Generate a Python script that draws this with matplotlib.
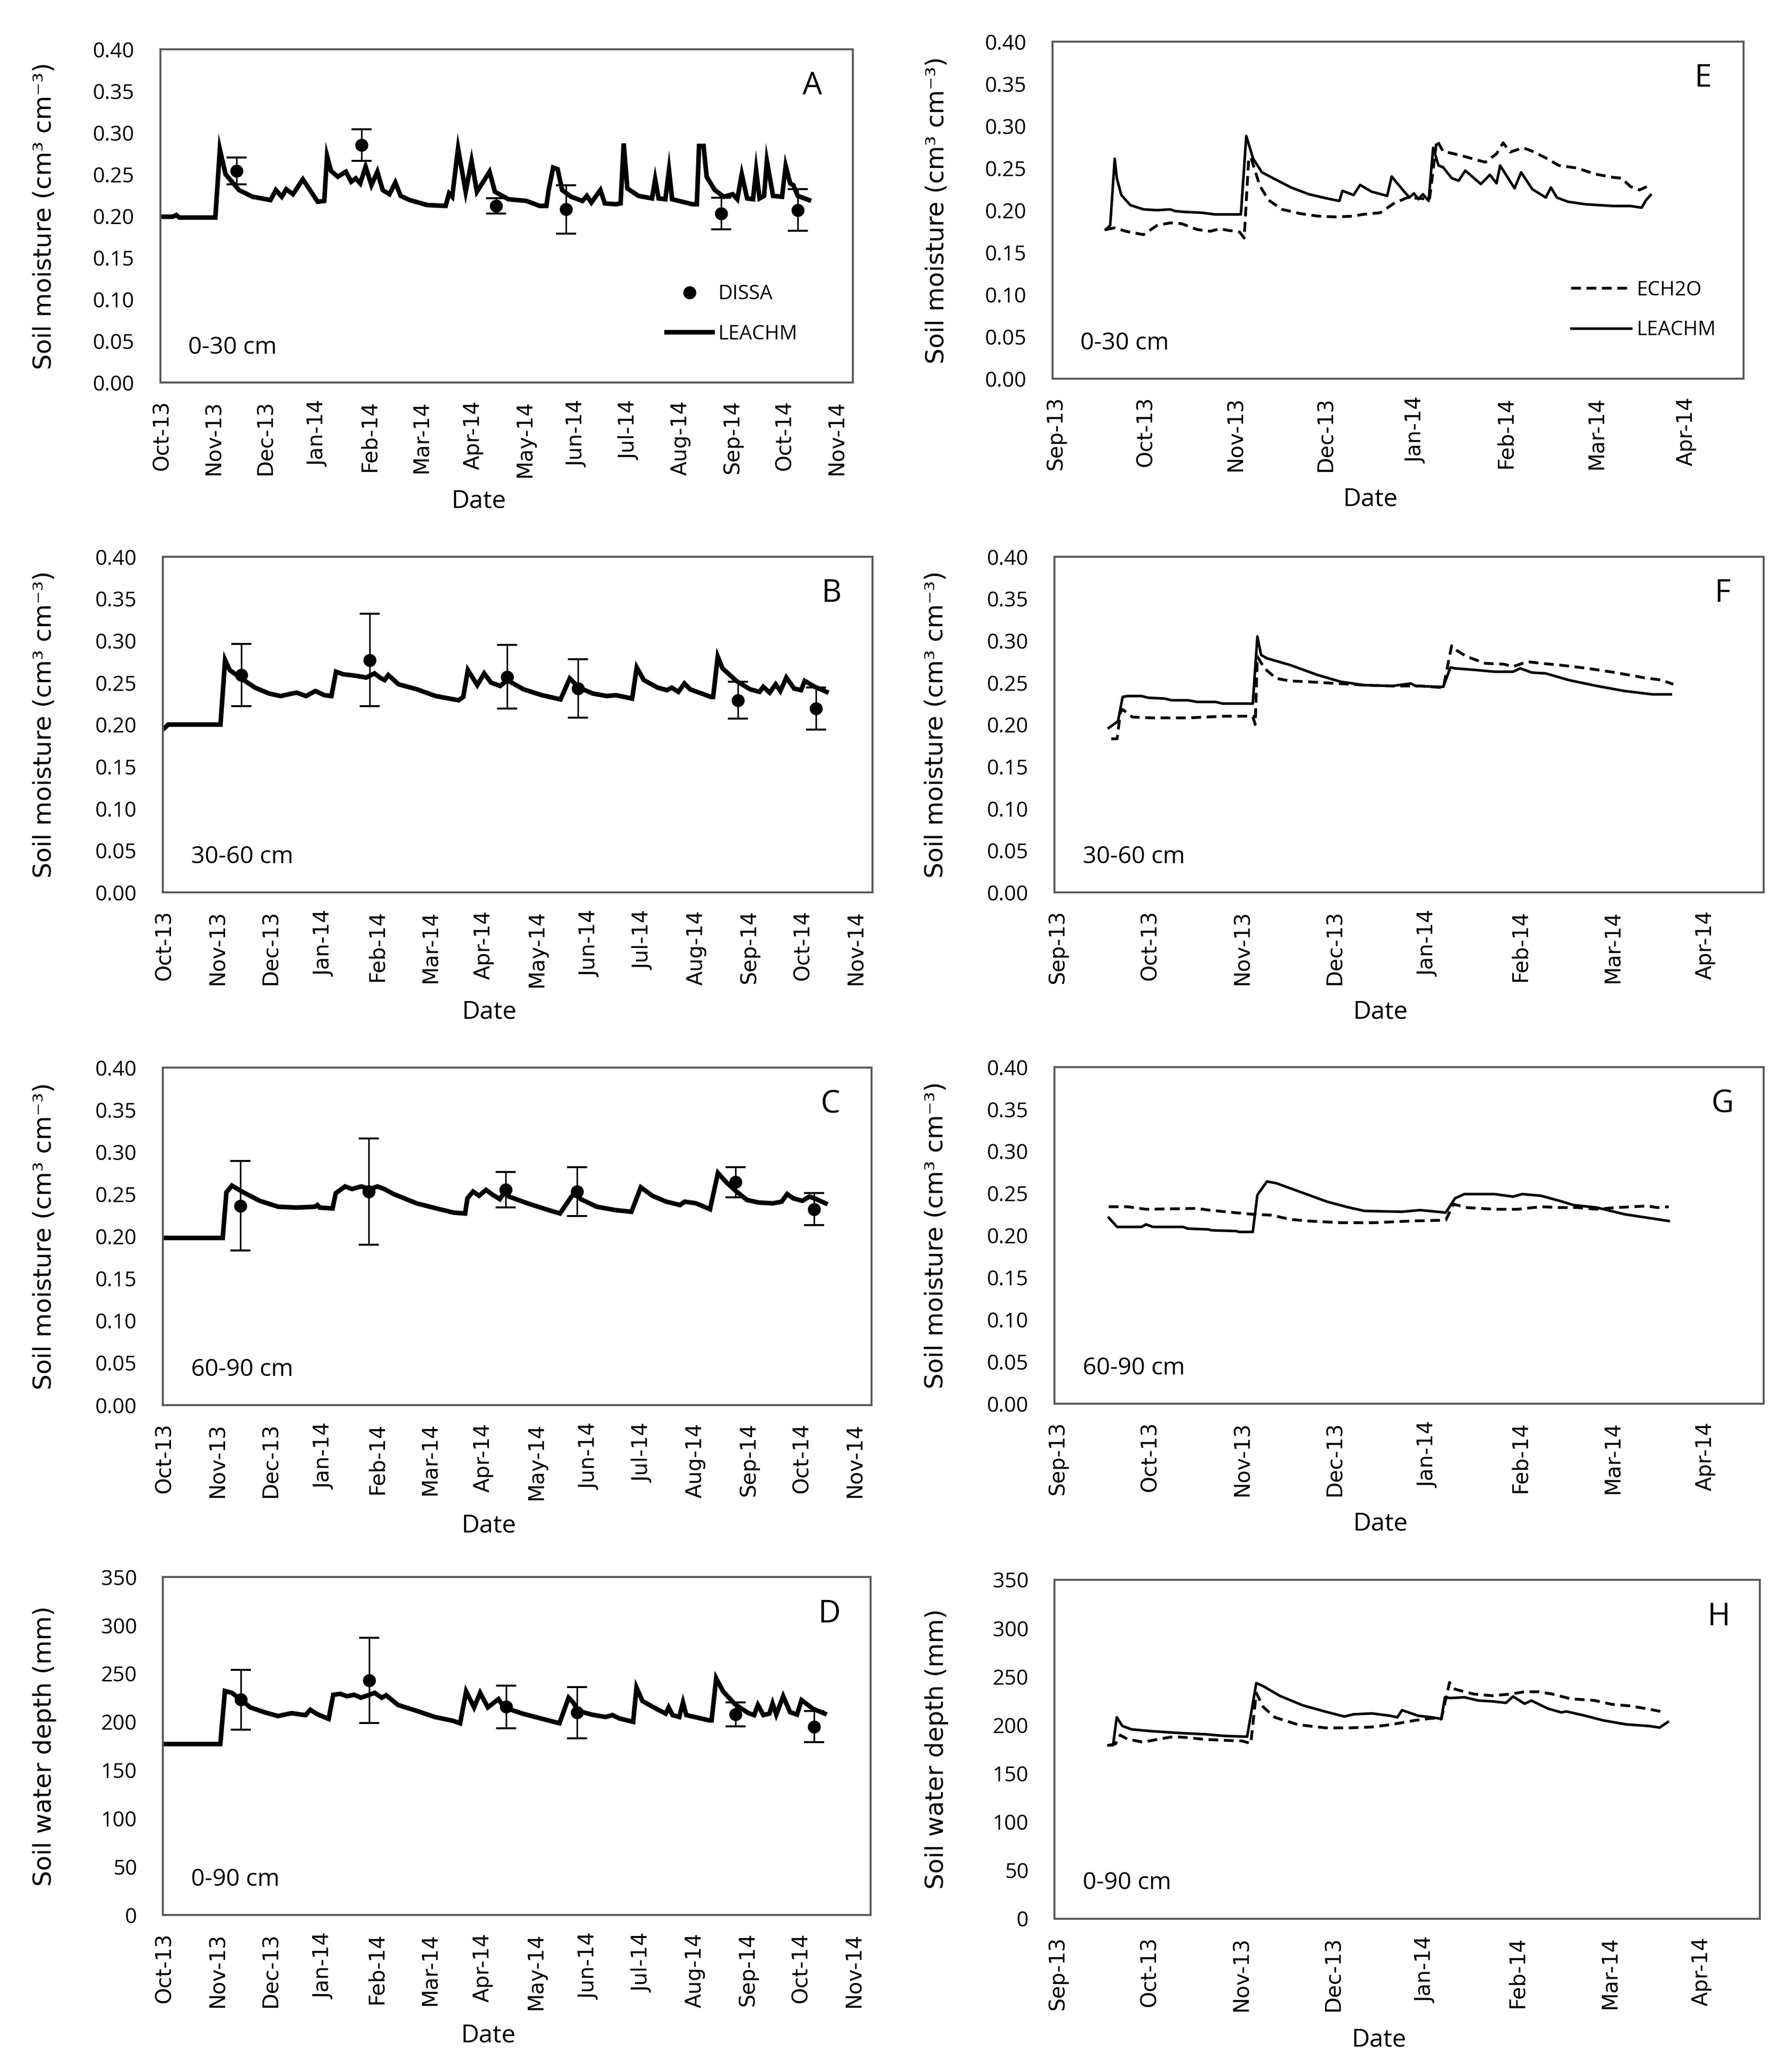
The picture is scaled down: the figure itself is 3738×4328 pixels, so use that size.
import matplotlib
matplotlib.use('Agg')
import matplotlib.pyplot as plt

# x values are days counted from the first month tick of each axis
# (one tick every 30 days, like the Excel date axis of the original)
months_left = ['Oct-13', 'Nov-13', 'Dec-13', 'Jan-14', 'Feb-14', 'Mar-14', 'Apr-14',
               'May-14', 'Jun-14', 'Jul-14', 'Aug-14', 'Sep-14', 'Oct-14', 'Nov-14']
months_right = ['Sep-13', 'Oct-13', 'Nov-13', 'Dec-13', 'Jan-14', 'Feb-14', 'Mar-14', 'Apr-14']

# ---- A: 0-30 cm, LEACHM vs DISSA
a_day = [0, 6, 8.2, 10, 30.8, 33.4, 36.7, 44.5, 52.3, 62.7, 65.8, 69.2, 71.8, 75.7, 81.4, 90.0,
         93.8, 95.4, 97.7, 101.6, 106.3, 109.4, 112.0, 114.6, 117.7, 121.1, 124.5, 127.6, 131.5,
         134.9, 138.0, 143.2, 153.5, 164.0, 166.0, 167.8, 171.2, 175.6, 179.0, 182.1, 189.4,
         192.5, 200.3, 210.7, 218.4, 222.3, 223.6, 226.2, 228.8, 231.4, 236.6, 243.1, 245.7,
         248.3, 253.5, 256.1, 262.6, 265.2, 267.0, 269.1, 275.6, 283.4, 285.2, 287.2, 291.1,
         293.2, 295.0, 306.7, 309.3, 310.6, 313.2, 315.0, 319.7, 324.9, 330.1, 332.7, 335.3,
         338.4, 341.8, 343.6, 345.6, 348.2, 349.8, 353.4, 358.6, 360.7, 363.3, 365.1, 367.7, 374.2]
a_leachm = [0.199, 0.199, 0.201, 0.198, 0.198, 0.280, 0.250, 0.231, 0.223, 0.219, 0.231, 0.223,
            0.232, 0.226, 0.244, 0.217, 0.218, 0.272, 0.254, 0.247, 0.253, 0.241, 0.245, 0.239,
            0.259, 0.237, 0.253, 0.231, 0.226, 0.240, 0.224, 0.219, 0.213, 0.212, 0.227, 0.223,
            0.281, 0.229, 0.266, 0.229, 0.253, 0.229, 0.220, 0.218, 0.212, 0.212, 0.231, 0.258,
            0.256, 0.231, 0.223, 0.218, 0.224, 0.216, 0.231, 0.215, 0.214, 0.215, 0.287, 0.233,
            0.224, 0.221, 0.244, 0.221, 0.220, 0.255, 0.220, 0.214, 0.214, 0.284, 0.284, 0.247,
            0.231, 0.223, 0.226, 0.220, 0.250, 0.221, 0.220, 0.255, 0.221, 0.224, 0.266, 0.224,
            0.223, 0.260, 0.239, 0.237, 0.224, 0.219]
a_dissa_day = [43.2, 115.4, 193.3, 233.5, 323.3, 367.7]
a_dissa = [0.254, 0.285, 0.212, 0.208, 0.203, 0.207]
a_dissa_err = [0.016, 0.019, 0.009, 0.029, 0.019, 0.025]

# ---- B: 30-60 cm
b_day = [0, 2, 31.5, 34.1, 36.7, 43.2, 51.0, 58.9, 65.4, 71.9, 74.5, 79.8, 85.0, 90.2, 94.1, 96.7,
         100.6, 108.5, 113.7, 118.4, 121.5, 124.1, 126.2, 132.0, 142.4, 152.9, 160.7, 165.9,
         168.5, 171.1, 176.4, 180.3, 184.2, 189.4, 193.3, 202.5, 212.9, 223.4, 228.6, 233.8,
         241.6, 249.5, 254.7, 263.8, 266.4, 270.4, 278.2, 283.5, 286.1, 289.9, 293.3, 296.5,
         308.2, 309.5, 312.1, 314.8, 322.6, 330.4, 335.7, 337.8, 341.4, 344.8, 347.4, 350.8,
         355.2, 359.1, 361.2, 366.9, 373.5]
b_leachm = [0.196, 0.200, 0.200, 0.277, 0.265, 0.255, 0.244, 0.237, 0.234, 0.237, 0.238, 0.234,
            0.240, 0.235, 0.234, 0.263, 0.260, 0.258, 0.256, 0.261, 0.256, 0.253, 0.259, 0.248,
            0.242, 0.234, 0.231, 0.229, 0.233, 0.265, 0.247, 0.261, 0.250, 0.246, 0.253, 0.242,
            0.235, 0.230, 0.255, 0.244, 0.237, 0.234, 0.235, 0.231, 0.268, 0.253, 0.244, 0.241,
            0.244, 0.239, 0.249, 0.242, 0.233, 0.233, 0.281, 0.267, 0.252, 0.242, 0.239, 0.245,
            0.238, 0.248, 0.240, 0.256, 0.243, 0.241, 0.252, 0.245, 0.239]
b_dissa_day = [43.2, 115.8, 193.3, 233.3, 323.4, 367.5]
b_dissa = [0.259, 0.277, 0.257, 0.243, 0.229, 0.219]
b_dissa_err = [0.037, 0.055, 0.038, 0.035, 0.022, 0.025]

# ---- C: 60-90 cm
c_day = [0, 32.8, 34.9, 38.0, 44.5, 53.7, 64.1, 74.5, 85.0, 86.3, 87.6, 94.9, 96.7, 101.9, 105.9,
         111.1, 116.3, 120.2, 124.1, 129.4, 142.4, 155.5, 163.3, 169.8, 171.1, 174.3, 177.7,
         181.6, 185.5, 189.4, 192.0, 194.6, 205.1, 215.5, 223.4, 229.9, 232.5, 235.1, 244.2,
         254.7, 263.8, 269.1, 275.6, 283.5, 291.2, 293.9, 300.4, 308.2, 312.7, 317.4, 322.6,
         329.1, 335.7, 343.5, 348.7, 351.8, 355.2, 360.4, 364.4, 368.3, 373.5]
c_leachm = [0.198, 0.198, 0.252, 0.260, 0.252, 0.242, 0.235, 0.234, 0.235, 0.237, 0.234, 0.233,
            0.251, 0.259, 0.256, 0.259, 0.256, 0.259, 0.256, 0.250, 0.239, 0.232, 0.228, 0.227,
            0.245, 0.253, 0.248, 0.255, 0.249, 0.244, 0.252, 0.247, 0.239, 0.232, 0.227, 0.247,
            0.253, 0.244, 0.235, 0.231, 0.229, 0.258, 0.248, 0.241, 0.237, 0.241, 0.239, 0.232,
            0.275, 0.264, 0.254, 0.243, 0.240, 0.239, 0.241, 0.250, 0.245, 0.242, 0.247, 0.244,
            0.239]
c_dissa_day = [42.7, 115.3, 192.8, 233.0, 322.6, 367.0]
c_dissa = [0.236, 0.253, 0.255, 0.253, 0.264, 0.232]
c_dissa_err = [0.053, 0.063, 0.021, 0.029, 0.018, 0.019]

# ---- D: 0-90 cm water depth (mm)
d_day = [0, 31.5, 34.1, 38.0, 43.2, 48.4, 56.3, 64.1, 71.9, 77.2, 79.8, 82.4, 86.3, 92.8, 95.4,
         99.3, 103.2, 107.2, 111.1, 115.0, 118.9, 122.8, 125.4, 132.0, 142.4, 152.9, 163.3,
         167.2, 170.6, 175.1, 178.5, 182.9, 188.9, 192.0, 202.5, 212.9, 223.4, 228.6, 231.2,
         233.8, 241.6, 249.5, 253.4, 257.3, 265.1, 267.0, 270.4, 278.2, 283.5, 285.2, 287.4,
         291.2, 293.3, 295.2, 308.2, 309.5, 312.1, 316.0, 322.6, 326.5, 330.4, 333.6, 335.7,
         338.8, 342.2, 344.0, 346.1, 350.0, 353.9, 357.8, 360.4, 366.9, 373.5]
d_leachm = [177, 177, 232, 230, 223, 215, 210, 206, 209, 207.5, 207, 212.5, 208, 203, 228, 229,
            226.5, 228, 225, 227.5, 230, 225, 227.5, 217.5, 211.5, 205, 201, 198.5, 231.5, 215,
            230, 215, 223.5, 215, 208.5, 203.5, 198.5, 225, 220, 211.5, 207.5, 205, 207, 203.5,
            200, 235.5, 221.5, 213.5, 208.5, 215, 207, 205, 220, 207, 201.5, 201.5, 245, 231.5,
            218.5, 213.5, 209, 207, 217.5, 207, 208.5, 219, 207.5, 226.5, 210, 207.5, 222.5,
            213.5, 208.5]
d_dissa_day = [43.2, 115.8, 193.3, 233.3, 323.1, 367.5]
d_dissa = [223, 243, 215.5, 209.5, 207.5, 195]
d_dissa_err = [31, 44, 22, 26.5, 12.4, 16]

# ---- E: 0-30 cm, LEACHM vs ECH2O
e_day = [16.7, 18.2, 19.7, 20.4, 21.9, 24.9, 29.3, 33.8, 38.2, 39.7, 42.7, 48.7, 53.1, 61.7, 63.5,
         65.8, 68.7, 72.4, 78.4, 84.3, 90.3, 94.5, 95.5, 99.2, 101.4, 105.2, 110.4, 111.9, 115.6,
         117.8, 119.3, 120.8, 122.3, 124.2, 125.7, 127.5, 129.0, 131.9, 134.2, 136.4, 141.6,
         144.6, 146.8, 148.0, 152.8, 155.0, 158.7, 163.2, 164.9, 166.9, 170.6, 176.5, 185.5,
         191.4, 195.1, 196.6, 198.1]
e_leachm = [0.177, 0.182, 0.261, 0.238, 0.218, 0.206, 0.201, 0.200, 0.201, 0.199, 0.198, 0.197,
            0.195, 0.195, 0.288, 0.261, 0.245, 0.238, 0.227, 0.219, 0.214, 0.211, 0.223, 0.218,
            0.230, 0.222, 0.217, 0.240, 0.224, 0.215, 0.220, 0.213, 0.219, 0.211, 0.274, 0.253,
            0.251, 0.238, 0.235, 0.247, 0.231, 0.242, 0.232, 0.253, 0.226, 0.245, 0.225, 0.215,
            0.227, 0.215, 0.210, 0.207, 0.205, 0.205, 0.203, 0.212, 0.218]
e_ech_day = [16.7, 19.7, 23.4, 27.8, 29.3, 33.8, 38.2, 42.0, 47.2, 51.6, 54.6, 57.6, 59.8, 61.3,
             62.8, 64.3, 65.0, 68.0, 70.9, 75.4, 81.4, 87.3, 93.3, 99.2, 102.2, 108.1, 112.6,
             117.1, 121.5, 124.5, 126.9, 129.0, 134.9, 140.9, 143.1, 146.8, 149.0, 151.3, 155.7,
             158.7, 163.2, 167.6, 173.6, 179.5, 185.5, 188.4, 191.4, 194.4, 197.4]
e_ech = [0.177, 0.179, 0.175, 0.172, 0.171, 0.182, 0.185, 0.184, 0.177, 0.175, 0.178, 0.176,
         0.175, 0.174, 0.167, 0.261, 0.263, 0.229, 0.212, 0.201, 0.196, 0.193, 0.192, 0.193,
         0.195, 0.197, 0.208, 0.215, 0.214, 0.213, 0.283, 0.270, 0.265, 0.259, 0.257, 0.267,
         0.280, 0.269, 0.274, 0.270, 0.262, 0.253, 0.250, 0.243, 0.239, 0.238, 0.228, 0.224,
         0.229]

# ---- F: 30-60 cm
f_day = [16.6, 19.6, 21.1, 22.7, 27.2, 29.4, 34.7, 37.0, 42.2, 45.3, 51.3, 53.5, 63.3, 64.8, 66.0,
         67.9, 75.4, 84.4, 91.9, 99.5, 108.5, 114.6, 116.1, 123.6, 125.1, 127.4, 128.9, 135.7,
         141.7, 147.7, 150.0, 153.8, 158.3, 165.8, 174.9, 183.9, 192.9, 198.9]
f_leachm = [0.196, 0.204, 0.233, 0.234, 0.234, 0.232, 0.231, 0.229, 0.229, 0.227, 0.227, 0.225,
            0.225, 0.305, 0.283, 0.279, 0.271, 0.259, 0.251, 0.247, 0.246, 0.249, 0.246, 0.245,
            0.245, 0.268, 0.267, 0.265, 0.263, 0.263, 0.267, 0.262, 0.261, 0.253, 0.246, 0.240,
            0.236, 0.236]
f_ech_day = [17.4, 19.3, 20.4, 21.1, 24.2, 30.2, 42.2, 54.3, 63.3, 64.1, 64.8, 67.1, 70.9, 75.4,
             81.4, 90.4, 99.5, 108.5, 117.6, 125.1, 127.8, 129.6, 132.7, 138.7, 144.7, 147.7,
             152.3, 156.8, 162.8, 171.8, 180.9, 189.9, 195.9, 199.7]
f_ech = [0.183, 0.183, 0.215, 0.218, 0.209, 0.208, 0.208, 0.210, 0.210, 0.200, 0.281, 0.267,
         0.255, 0.252, 0.251, 0.249, 0.247, 0.246, 0.246, 0.244, 0.294, 0.288, 0.281, 0.273,
         0.272, 0.269, 0.275, 0.273, 0.271, 0.267, 0.262, 0.256, 0.253, 0.248]

# ---- G: 60-90 cm
g_day = [16.6, 19.3, 27.2, 28.7, 30.9, 40.7, 42.2, 49.0, 49.8, 58.1, 58.8, 63.3, 64.8, 67.9, 70.9,
         78.4, 87.4, 93.5, 99.5, 111.6, 117.6, 125.9, 128.9, 131.9, 141.7, 147.7, 150.7, 156.8,
         162.8, 167.3, 174.9, 183.9, 192.9, 198.2]
g_leachm = [0.221, 0.210, 0.210, 0.213, 0.210, 0.210, 0.208, 0.207, 0.206, 0.205, 0.204, 0.204,
            0.248, 0.264, 0.262, 0.252, 0.240, 0.234, 0.229, 0.228, 0.230, 0.227, 0.244, 0.249,
            0.249, 0.246, 0.249, 0.247, 0.241, 0.236, 0.233, 0.225, 0.220, 0.217]
g_ech_day = [16.6, 22.7, 28.7, 45.3, 49.0, 57.3, 63.3, 69.4, 75.4, 81.4, 91.9, 102.5, 114.6, 125.9,
             128.4, 132.7, 141.7, 149.2, 156.8, 162.8, 168.8, 174.9, 180.9, 186.9, 191.4, 194.4,
             198.2]
g_ech = [0.234, 0.234, 0.231, 0.232, 0.230, 0.227, 0.225, 0.224, 0.219, 0.217, 0.215, 0.215,
         0.217, 0.218, 0.237, 0.233, 0.231, 0.231, 0.234, 0.233, 0.233, 0.231, 0.233, 0.234,
         0.235, 0.233, 0.234]

# ---- H: 0-90 cm water depth (mm)
h_day = [16.6, 18.1, 19.3, 21.1, 24.2, 30.2, 37.7, 42.2, 48.3, 54.3, 61.8, 64.8, 67.1, 72.4, 79.9,
         87.4, 93.5, 96.5, 102.5, 108.5, 110.8, 112.3, 117.6, 122.1, 125.1, 126.3, 128.1, 132.7,
         137.2, 141.7, 146.2, 148.5, 152.3, 154.5, 159.8, 164.3, 165.8, 171.8, 177.9, 185.4,
         192.9, 196.3, 199.0]
h_leachm = [179, 179, 208, 199, 195.4, 193.7, 192.1, 191.3, 190.4, 188.7, 187.9, 243.3, 240,
            230.2, 220.3, 213.7, 208.7, 211, 211.9, 209.5, 207.9, 215.3, 209.5, 207.9, 206.3,
            228.6, 227.8, 228.6, 225.2, 224.4, 222.8, 229.4, 221.9, 225.2, 217, 212.9, 214,
            209.7, 204.7, 200.6, 198.9, 197.3, 203.1]
h_ech_day = [16.6, 18.9, 20.4, 22.7, 27.9, 33.2, 37.7, 42.2, 48.3, 54.3, 60.3, 63.0, 64.8, 67.1,
             70.9, 78.4, 87.4, 94.9, 102.5, 108.5, 116.1, 122.1, 125.1, 127.8, 129.6, 135.7,
             141.7, 147.7, 152.3, 156.8, 161.3, 167.3, 174.9, 180.9, 186.9, 192.9, 198.2]
h_ech = [179, 180.5, 189.6, 185.5, 182.2, 185.5, 187.9, 187, 185, 184.2, 183.4, 180.9, 233,
         218.5, 207.8, 200.3, 197, 197, 197.9, 200.3, 204.5, 207, 206, 243.9, 236.9, 231.9,
         230.2, 231.9, 234.3, 234.3, 231.9, 227, 225.4, 221.2, 219.6, 216.3, 213]

NUM_FONT = 'Open Sans'
WIDE_FONT = 'DejaVu Sans'
THETA_LABEL = 'Soil moisture (cm\u00b3 cm\u207b\u00b3)'
DEPTH_LABEL = 'Soil water depth (mm)'


def style_axes(ax, months, xmax, ymax, ystep, yfmt, ylabel, depth, letter):
    """Excel-like frame, ticks and annotations for one panel."""
    ax.set_xlim(-1, xmax)
    ax.set_xticks([30 * i for i in range(len(months))])
    ax.set_xticklabels(months, rotation=90, fontfamily=WIDE_FONT, fontsize=10.5)
    ax.set_ylim(0, ymax)
    yt = [ystep * i for i in range(int(round(ymax / ystep)) + 1)]
    ax.set_yticks(yt)
    ax.set_yticklabels([yfmt % v for v in yt], fontfamily=NUM_FONT, fontsize=10.5)
    ax.tick_params(axis='x', length=0, pad=9)
    ax.tick_params(axis='y', length=0, pad=13)
    for sp in ax.spines.values():
        sp.set_color('#595959')
        sp.set_linewidth(1.0)
    ax.set_ylabel(ylabel, fontfamily=WIDE_FONT, fontsize=12.5)
    ax.yaxis.label.set_va('center')
    ax.yaxis.set_label_coords(-0.167, 0.5)
    ax.set_xlabel('Date', fontfamily=NUM_FONT, fontsize=12.5)
    ax.xaxis.label.set_va('center')
    ax.xaxis.set_label_coords(0.46, -0.357)
    ax.text(0.04, 0.105, depth, transform=ax.transAxes, va='center', ha='left',
            fontfamily=NUM_FONT, fontsize=12)
    ax.text(0.942, 0.89, letter, transform=ax.transAxes, va='center', ha='center',
            fontfamily=NUM_FONT, fontsize=15.5)


def plot_left(ax, day, leachm, dday, dval, derr):
    line, = ax.plot(day, leachm, color='black', lw=2.3, solid_joinstyle='miter', zorder=2)
    eb = ax.errorbar(dday, dval, yerr=derr, fmt='o', color='black', ms=5.5,
                     ecolor='black', elinewidth=0.8, capsize=5, capthick=1.0, zorder=3)
    return line, eb.lines[0]


def plot_right(ax, day, leachm, eday, ech):
    solid, = ax.plot(day, leachm, color='black', lw=1.3, zorder=3)
    dashed, = ax.plot(eday, ech, color='black', lw=1.4, dashes=(3.5, 2.0), zorder=2)
    return solid, dashed


fig = plt.figure(figsize=(3738 / 300, 4328 / 300), dpi=300)

ax_a = fig.add_axes([0.0896, 0.8154, 0.3868, 0.1608])
ax_b = fig.add_axes([0.0910, 0.5693, 0.3965, 0.1620])
ax_c = fig.add_axes([0.0910, 0.3219, 0.3959, 0.1629])
ax_d = fig.add_axes([0.0910, 0.0758, 0.3954, 0.1631])
ax_e = fig.add_axes([0.5880, 0.8172, 0.3860, 0.1627])
ax_f = fig.add_axes([0.5891, 0.5693, 0.3962, 0.1620])
ax_g = fig.add_axes([0.5891, 0.3226, 0.3962, 0.1624])
ax_h = fig.add_axes([0.5891, 0.0740, 0.3941, 0.1636])

line_a, dot_a = plot_left(ax_a, a_day, a_leachm, a_dissa_day, a_dissa, a_dissa_err)
plot_left(ax_b, b_day, b_leachm, b_dissa_day, b_dissa, b_dissa_err)
plot_left(ax_c, c_day, c_leachm, c_dissa_day, c_dissa, c_dissa_err)
plot_left(ax_d, d_day, d_leachm, d_dissa_day, d_dissa, d_dissa_err)

solid_e, dashed_e = plot_right(ax_e, e_day, e_leachm, e_ech_day, e_ech)
plot_right(ax_f, f_day, f_leachm, f_ech_day, f_ech)
plot_right(ax_g, g_day, g_leachm, g_ech_day, g_ech)
plot_right(ax_h, h_day, h_leachm, h_ech_day, h_ech)

style_axes(ax_a, months_left, 399.5, 0.40, 0.05, '%.2f', THETA_LABEL, '0-30 cm', 'A')
style_axes(ax_b, months_left, 399.5, 0.40, 0.05, '%.2f', THETA_LABEL, '30-60 cm', 'B')
style_axes(ax_c, months_left, 399.5, 0.40, 0.05, '%.2f', THETA_LABEL, '60-90 cm', 'C')
style_axes(ax_d, months_left, 399.5, 350, 50, '%d', DEPTH_LABEL, '0-90 cm', 'D')
style_axes(ax_e, months_right, 229, 0.40, 0.05, '%.2f', THETA_LABEL, '0-30 cm', 'E')
style_axes(ax_f, months_right, 229, 0.40, 0.05, '%.2f', THETA_LABEL, '30-60 cm', 'F')
style_axes(ax_g, months_right, 229, 0.40, 0.05, '%.2f', THETA_LABEL, '60-90 cm', 'G')
style_axes(ax_h, months_right, 229, 350, 50, '%d', DEPTH_LABEL, '0-90 cm', 'H')

ax_a.legend([dot_a, line_a], ['DISSA', 'LEACHM'], loc='lower right',
            bbox_to_anchor=(0.935, 0.085), frameon=False, borderpad=0,
            handlelength=2.3, handletextpad=0.3, labelspacing=1.0,
            prop={'family': NUM_FONT, 'size': 10})
ax_e.legend([dashed_e, solid_e], ['ECH2O', 'LEACHM'], loc='lower right',
            bbox_to_anchor=(0.975, 0.085), frameon=False, borderpad=0,
            handlelength=3.0, handletextpad=0.3, labelspacing=1.0,
            prop={'family': NUM_FONT, 'size': 10})

fig.savefig('out.png', dpi=300, facecolor='white')
